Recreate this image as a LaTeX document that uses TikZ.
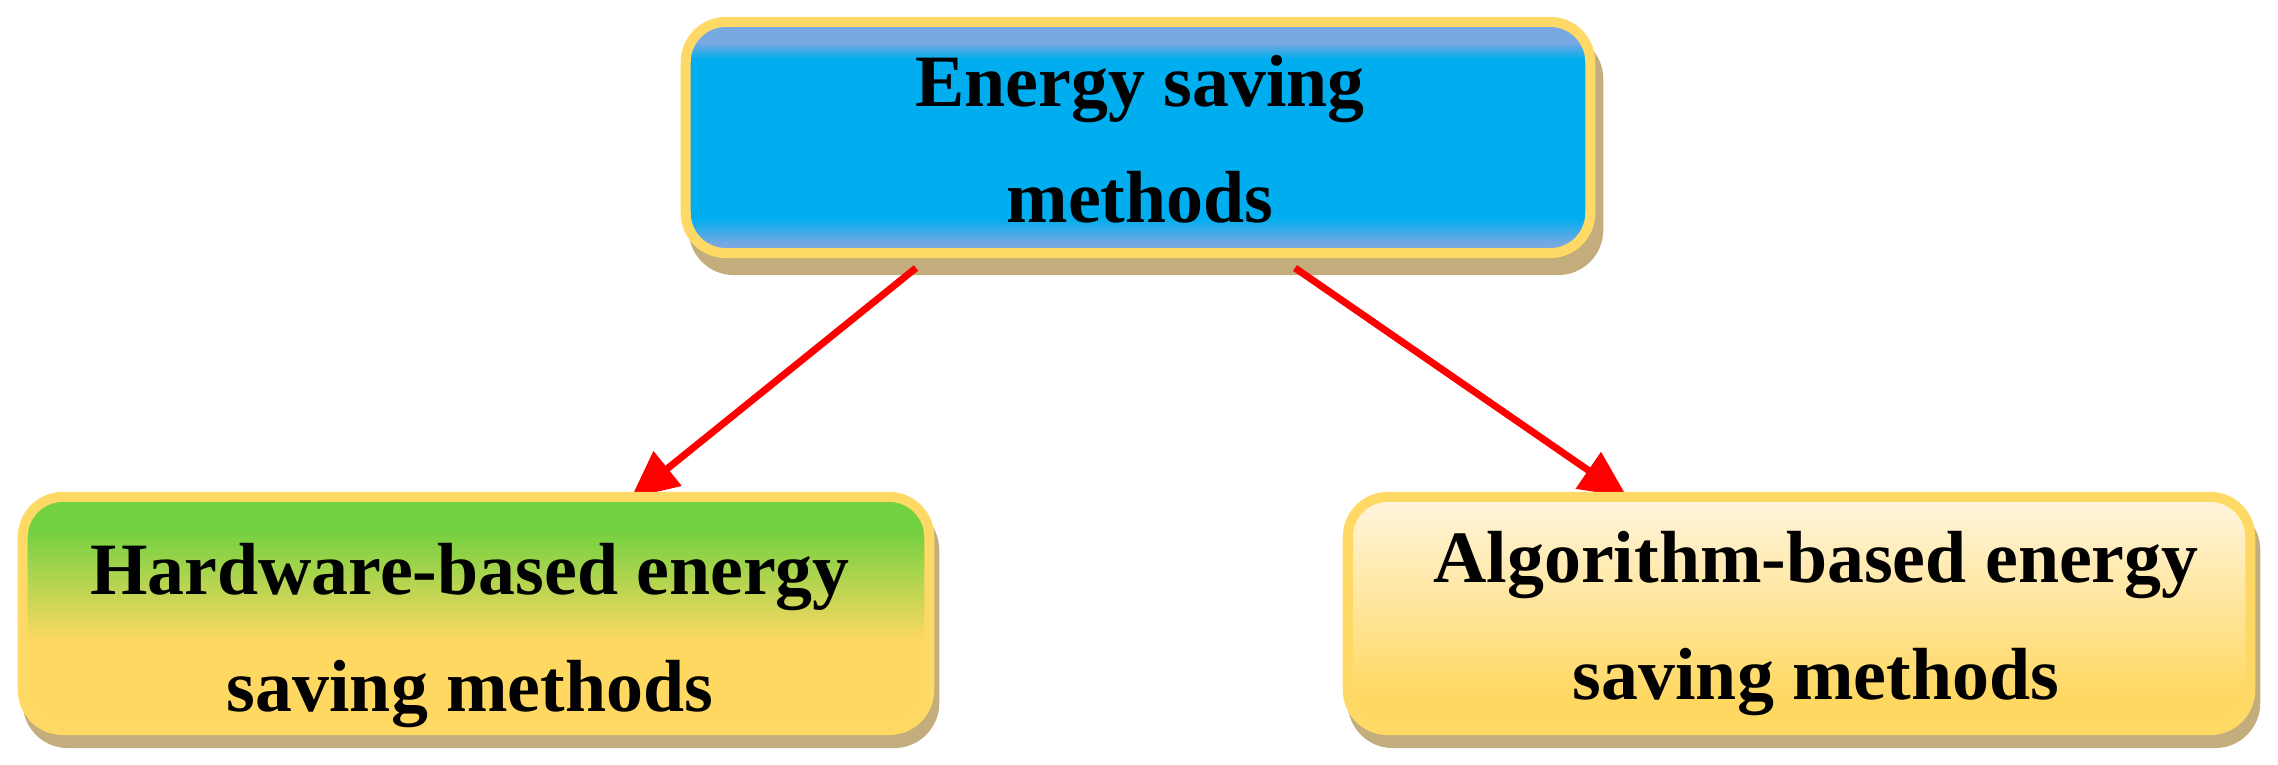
\documentclass[tikz,border=0pt]{standalone}
\usepackage{fontspec}
\setmainfont{Liberation Serif}
\usetikzlibrary{arrows.meta,calc}
\definecolor{bordery}{HTML}{FFD966}
\definecolor{shadowtan}{HTML}{C4AD7C}
\definecolor{lightblue}{HTML}{78A8E2}
\definecolor{cyanblue}{HTML}{00AEEF}
\definecolor{greentop}{HTML}{72D140}
\definecolor{yellowbot}{HTML}{FFD862}
\definecolor{creamtop}{HTML}{FFF5DE}
\definecolor{arrowred}{HTML}{FF0000}
\pgfdeclarelayer{front}
\pgfsetlayers{main,front}
\pgfdeclareverticalshading{bluebar}{100bp}{color(0bp)=(lightblue); color(25bp)=(lightblue); color(27bp)=(lightblue); color(32.5bp)=(cyanblue); color(67bp)=(cyanblue); color(70.5bp)=(lightblue); color(75bp)=(lightblue); color(100bp)=(lightblue)}
\pgfdeclareverticalshading{greenbar}{100bp}{color(0bp)=(yellowbot); color(25bp)=(yellowbot); color(44bp)=(yellowbot); color(68bp)=(greentop); color(75bp)=(greentop); color(100bp)=(greentop)}
\pgfdeclareverticalshading{creambar}{100bp}{color(0bp)=(yellowbot); color(25bp)=(yellowbot); color(32bp)=(yellowbot); color(75bp)=(creamtop); color(100bp)=(creamtop)}
\tikzset{
  boxbase/.style={rectangle, rounded corners=0.4cm, draw=bordery, line width=0.1cm, inner sep=0pt},
  topbox/.style={boxbase, minimum width=9.04cm, minimum height=2.31cm, shading=bluebar,
    preaction={fill=shadowtan, draw=shadowtan, line width=0.1cm, transform canvas={xshift=0.08cm,yshift=-0.17cm}}},
  hwbox/.style={boxbase, minimum width=9.06cm, minimum height=2.33cm, shading=greenbar,
    preaction={fill=shadowtan, draw=shadowtan, line width=0.1cm, transform canvas={xshift=0.05cm,yshift=-0.13cm}}},
  algbox/.style={boxbase, minimum width=9.02cm, minimum height=2.33cm, shading=creambar,
    preaction={fill=shadowtan, draw=shadowtan, line width=0.1cm, transform canvas={xshift=0.05cm,yshift=-0.13cm}}},
  txt/.style={inner sep=0pt, anchor=base, text=black, font=\fontsize{21}{24}\selectfont\bfseries},
  arr/.style={draw=arrowred, line width=0.07cm, -{Triangle[length=0.47cm,width=0.43cm]}}
}
\begin{document}
\begin{tikzpicture}[x=0.01cm, y=-0.01cm]
\useasboundingbox (0,0) rectangle (2278,765);
% top box
\node[topbox] (top) at (1138,137.5) {};
\node[txt] (top1) at ($(top.center)+(2,-30.5)$) {Energy saving};
\node[txt] (top2) at ($(top.center)+(2,85.5)$) {methods};
% bottom boxes on front layer
\begin{pgfonlayer}{front}
\node[hwbox] (hw) at (476,613.5) {};
\node[txt] (hw1) at ($(hw.center)+(-6,-18.5)$) {Hardware-based energy};
\node[txt] (hw2) at ($(hw.center)+(-6,98.5)$) {saving methods};
\node[algbox] (alg) at (1799,613.5) {};
\node[txt] (alg1) at ($(alg.center)+(17,-30.5)$) {Algorithm-based energy};
\node[txt] (alg2) at ($(alg.center)+(17,86.5)$) {saving methods};
\end{pgfonlayer}
% arrows
\draw[arr] ($(top.center)+(-222,130.5)$) -- ($(hw.center)+(155,-115.5)$);
\draw[arr] ($(top.center)+(157,130.5)$) -- ($(alg.center)+(-172,-116.5)$);
\end{tikzpicture}
\end{document}
